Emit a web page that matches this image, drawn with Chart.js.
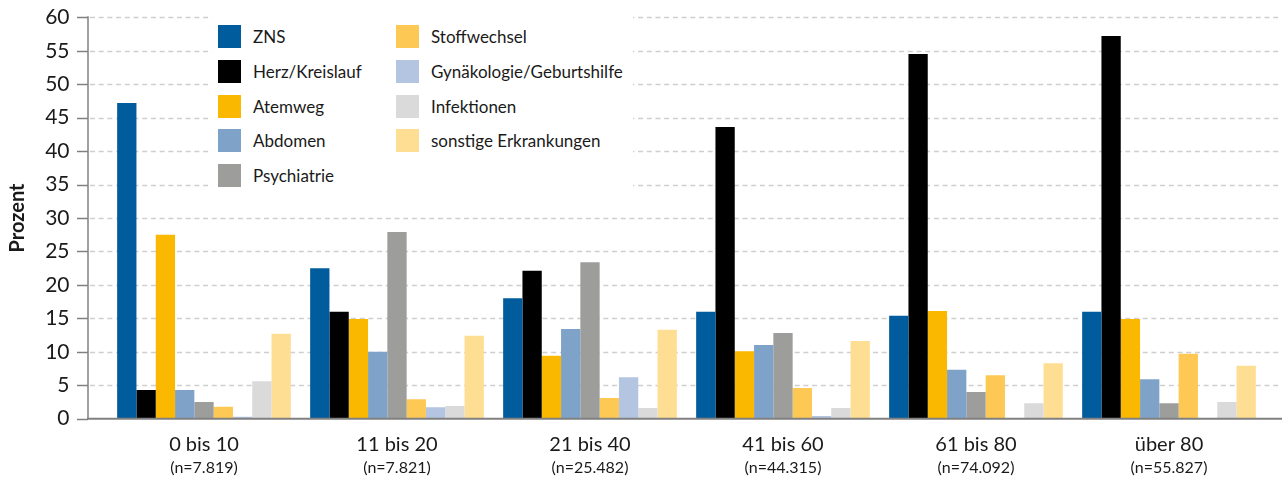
<!DOCTYPE html>
<html lang="de">
<head>
<meta charset="utf-8">
<script src="https://cdn.jsdelivr.net/npm/chart.js@4.4.0/dist/chart.umd.min.js"></script>
<style>
    body { margin: 0; background: #fff; }
    #wrap { position: relative; width: 1282px; height: 479px; }
    #legend {
        position: absolute; left: 212px; top: 15px; width: 421px; height: 177px;
        background: #fff; box-sizing: border-box; padding: 10px 0 0 6px;
        display: grid; grid-auto-flow: column;
        grid-template-rows: repeat(5, 34.75px); grid-template-columns: 178px 1fr;
        font-family: Lato, sans-serif; font-size: 17px; color: #1a1a1a;
    }
    .item { display: flex; align-items: flex-start; }
    .box { width: 23px; height: 23px; margin-right: 12px; flex: none; }
    .item span { line-height: 23px; }
</style>
</head>
<body>
<div id="wrap">
    <canvas id="chart" width="1282" height="479"></canvas>
    <div id="legend"></div>
</div>
<script>
// Daten
const categories = ['0 bis 10', '11 bis 20', '21 bis 40', '41 bis 60', '61 bis 80', 'über 80'];
const sampleSizes = ['(n=7.819)', '(n=7.821)', '(n=25.482)', '(n=44.315)', '(n=74.092)', '(n=55.827)'];

const zns          = [47.2, 22.5, 18.0, 16.0, 15.4, 16.0];
const herz         = [4.3, 16.0, 22.1, 43.6, 54.5, 57.2];
const atemweg      = [27.5, 14.9, 9.4, 10.1, 16.1, 14.9];
const abdomen      = [4.3, 10.0, 13.4, 11.0, 7.3, 5.9];
const psychiatrie  = [2.5, 27.9, 23.4, 12.8, 4.0, 2.3];
const stoffwechsel = [1.8, 2.9, 3.1, 4.6, 6.5, 9.7];
const gynaekologie = [0.3, 1.7, 6.2, 0.4, 0, 0];
const infektionen  = [5.6, 1.9, 1.6, 1.6, 2.3, 2.5];
const sonstige     = [12.7, 12.4, 13.3, 11.6, 8.3, 7.9];

const yTicks = [0, 5, 10, 15, 20, 25, 30, 35, 40, 45, 50, 55, 60];

const series = [
    { label: 'ZNS', data: zns, color: '#005c9c' },
    { label: 'Herz/Kreislauf', data: herz, color: '#000000' },
    { label: 'Atemweg', data: atemweg, color: '#fbb800' },
    { label: 'Abdomen', data: abdomen, color: '#7fa2c9' },
    { label: 'Psychiatrie', data: psychiatrie, color: '#9d9d9c' },
    { label: 'Stoffwechsel', data: stoffwechsel, color: '#fdc853' },
    { label: 'Gynäkologie/Geburtshilfe', data: gynaekologie, color: '#b3c5e1' },
    { label: 'Infektionen', data: infektionen, color: '#dadada' },
    { label: 'sonstige Erkrankungen', data: sonstige, color: '#fede92' }
];

Chart.defaults.font.family = 'Lato, sans-serif';
Chart.defaults.color = '#1a1a1a';

const AXIS_X = 88;

// Gitter, Achsen und n-Zeile selbst zeichnen (Achse reicht links/rechts über die Kategorien hinaus)
const axisPlugin = {
    id: 'axisPlugin',
    beforeDatasetsDraw(chart) {
        const ctx = chart.ctx;
        const y = chart.scales.y;
        ctx.save();
        ctx.strokeStyle = '#cfcfcf';
        ctx.lineWidth = 1.3;
        ctx.setLineDash([5, 3.7]);
        yTicks.forEach(v => {
            if (v === 0) return;
            const py = Math.round(y.getPixelForValue(v)) + 0.5;
            ctx.beginPath();
            ctx.moveTo(AXIS_X + 2, py);
            ctx.lineTo(chart.width, py);
            ctx.stroke();
        });
        ctx.restore();
    },
    afterDatasetsDraw(chart) {
        const ctx = chart.ctx;
        const y = chart.scales.y;
        const x = chart.scales.x;
        const top = y.getPixelForValue(60);
        const bottom = y.getPixelForValue(0);
        ctx.save();
        ctx.strokeStyle = '#808080';
        ctx.lineWidth = 1.5;
        yTicks.forEach(v => {
            const py = Math.round(y.getPixelForValue(v)) + 0.5;
            ctx.beginPath();
            ctx.moveTo(AXIS_X - 11, py);
            ctx.lineTo(AXIS_X, py);
            ctx.stroke();
        });
        ctx.beginPath();
        ctx.moveTo(AXIS_X, top - 1);
        ctx.lineTo(AXIS_X, bottom);
        ctx.stroke();
        ctx.lineWidth = 2;
        ctx.beginPath();
        ctx.moveTo(AXIS_X - 1, bottom);
        ctx.lineTo(chart.width, bottom);
        ctx.stroke();

        ctx.fillStyle = '#1a1a1a';
        ctx.font = '16px Lato, sans-serif';
        ctx.textAlign = 'center';
        ctx.textBaseline = 'middle';
        sampleSizes.forEach((s, i) => {
            ctx.fillText(s, x.getPixelForTick(i), 468);
        });
        ctx.restore();
    }
};

new Chart(document.getElementById('chart'), {
    type: 'bar',
    data: {
        labels: categories,
        datasets: series.map(s => ({
            label: s.label,
            data: s.data,
            backgroundColor: s.color,
            borderWidth: 0,
            categoryPercentage: 0.9,
            barPercentage: 1.0
        }))
    },
    options: {
        responsive: false,
        animation: false,
        layout: { padding: { top: 17.3, right: 16.5, left: 0, bottom: 0 } },
        plugins: {
            legend: { display: false },
            tooltip: { enabled: false }
        },
        scales: {
            x: {
                grid: { display: false },
                border: { display: false },
                ticks: { font: { size: 20 }, padding: 6, maxRotation: 0 },
                afterFit: s => { s.height = 60.3; }
            },
            y: {
                min: 0,
                max: 60,
                grid: { display: false },
                border: { display: false },
                afterBuildTicks: s => { s.ticks = yTicks.map(v => ({ value: v })); },
                ticks: { font: { size: 21 }, padding: 30 },
                title: {
                    display: true,
                    text: 'Prozent',
                    font: { size: 20, weight: 'bold' },
                    padding: { top: 6, bottom: 0 }
                },
                afterFit: s => {
                    s.width = 107.5;
                    // tick padding würde sonst oben/unten Platz reservieren
                    s.paddingTop = 0;
                    s.paddingBottom = 0;
                }
            }
        }
    },
    plugins: [axisPlugin]
});

// Legende
const legend = document.getElementById('legend');
legend.innerHTML = series.map(s => `
    <div class="item"><div class="box" style="background:${s.color}"></div><span>${s.label}</span></div>
`).join('');
</script>
</body>
</html>
